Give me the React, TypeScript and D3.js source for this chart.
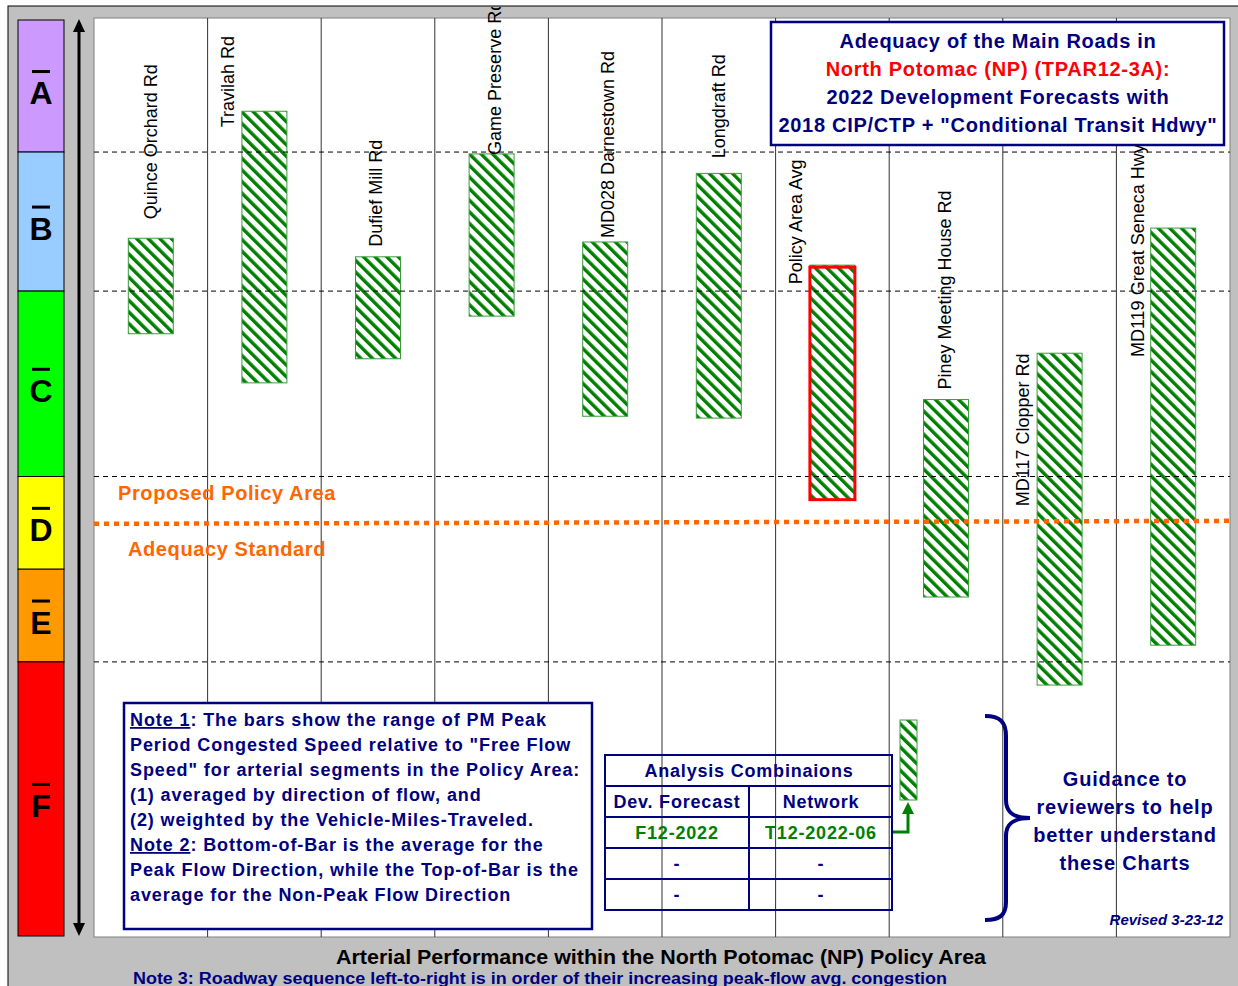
import React from "react";
import * as d3 from "d3";

// ---------- DATA ----------
const categories = [
  "Quince Orchard Rd",
  "Travilah Rd",
  "Dufief Mill Rd",
  "Game Preserve Rd",
  "MD028 Darnestown Rd",
  "Longdraft Rd",
  "Policy Area Avg",
  "Piney Meeting House Rd",
  "MD117 Clopper Rd",
  "MD119 Great Seneca Hwy",
];
// Top-of-bar: non-peak flow direction (% of free-flow speed)
const nonPeakValues = [75.7, 89.4, 73.7, 84.8, 75.3, 82.7, 72.8, 58.3, 63.3, 76.8];
// Bottom-of-bar: peak flow direction (% of free-flow speed)
const peakValues = [65.4, 60.1, 62.7, 67.3, 56.5, 56.3, 47.5, 37.0, 27.5, 31.8];
const highlightCategory = "Policy Area Avg";

const losLetters = ["A", "B", "C", "D", "E", "F"];
const losUpper = [100, 85, 70, 50, 40, 30];
const losLower = [85, 70, 50, 40, 30, 0];
const losColors = ["#cc99ff", "#99ccff", "#00ff00", "#ffff00", "#ff9900", "#ff0000"];
const dashedThresholds = [85, 70, 50, 30];
const adequacyStandard = 45;

const titleLines = [
  { text: "Adequacy of the Main Roads in", color: "#000080" },
  { text: "North Potomac (NP) (TPAR12-3A):", color: "#ff0000" },
  { text: "2022 Development Forecasts with", color: "#000080" },
  { text: "2018 CIP/CTP + \"Conditional Transit Hdwy\"", color: "#000080" },
];
const noteLines = [
  ["Note 1", ": The bars show the range of PM Peak"],
  ["", "Period Congested Speed relative to \"Free Flow"],
  ["", "Speed\" for arterial segments in the Policy Area:"],
  ["", "(1) averaged by direction of flow, and"],
  ["", "(2) weighted by the Vehicle-Miles-Traveled."],
  ["Note 2", ": Bottom-of-Bar is the average for the"],
  ["", "Peak Flow Direction, while the Top-of-Bar is the"],
  ["", "average for the Non-Peak Flow Direction"],
];
const tableHeader = "Analysis Combinaions";
const tableColumns = ["Dev. Forecast", "Network"];
const tableRows = [
  ["F12-2022", "T12-2022-06"],
  ["-", "-"],
  ["-", "-"],
];
const guidanceLines = ["Guidance to", "reviewers to help", "better understand", "these Charts"];

// ---------- LAYOUT (label placement tweaks) ----------
const labelDx = [0, -37, -2, 3, 2, 0, -37, -1, -37, -36];
const labelDy = [-19, 16, -10, 1, -4, -15, 19, -10, 153, 129];

const FONT = "'Liberation Sans', Arial, sans-serif";
const NAVY = "#000080";
const GREEN = "#008000";
const ORANGE = "#ff6600";

export default function App() {
  const W = 1238;
  const H = 986;
  const plot = { x0: 94, x1: 1230, y0: 18, y1: 937 };

  const x = d3
    .scaleBand<string>()
    .domain(categories)
    .range([plot.x0, plot.x1])
    .paddingInner(0.604)
    .paddingOuter(0.302);
  const xCat = d3.scaleBand<string>().domain(categories).range([plot.x0, plot.x1]);
  const y = d3.scaleLinear().domain([0, 100]).range([940, 13]);

  const bandTop = (v: number) => Math.max(20, y(v));
  const bandBot = (v: number) => Math.min(936, y(v));

  return (
    <svg
      width={W}
      height={H}
      style={{ position: "absolute", left: 0, top: 0, fontFamily: FONT }}
    >
      <defs>
        <pattern
          id="hatch"
          patternUnits="userSpaceOnUse"
          width={8.2}
          height={10}
          patternTransform="rotate(-45)"
        >
          <rect width={8.2} height={10} fill="#ffffff" />
          <rect x={0} width={3.4} height={10} fill={GREEN} />
        </pattern>
        <clipPath id="chartClip">
          <rect x={8} y={7} width={W} height={H} />
        </clipPath>
      </defs>

      <rect x={0} y={0} width={W} height={H} fill="#ffffff" />
      <rect x={8} y={6} width={W} height={H} fill="#c0c0c0" stroke="#000" strokeWidth={1} />

      {/* LOS letter band */}
      {losLetters.map((l, i) => {
        const t = bandTop(losUpper[i]);
        const b = bandBot(losLower[i]);
        const cy = (t + b) / 2;
        return (
          <g key={l}>
            <rect x={18} y={t} width={46} height={b - t} fill={losColors[i]} stroke="#000" strokeWidth={1} />
            <text x={41} y={cy + 18} textAnchor="middle" fontSize={32} fontWeight="bold" fill="#000">
              {l}
            </text>
            <rect x={32} y={cy - 16} width={18} height={3} fill="#000" />
          </g>
        );
      })}

      {/* double arrow */}
      <line x1={79} y1={30} x2={79} y2={925} stroke="#000" strokeWidth={3} />
      <path d="M73,32 L79,19 L85,32 Z" fill="#000" />
      <path d="M73,923 L79,936 L85,923 Z" fill="#000" />

      {/* plot area */}
      <rect x={plot.x0} y={plot.y0} width={plot.x1 - plot.x0} height={plot.y1 - plot.y0} fill="#ffffff" stroke="#808080" strokeWidth={1} />

      {/* vertical separators */}
      {categories.slice(1).map((c) => (
        <line key={c} x1={xCat(c)!} x2={xCat(c)!} y1={plot.y0} y2={plot.y1} stroke="#333" strokeWidth={1} />
      ))}

      {/* bars */}
      {categories.map((c, i) => {
        const bx = x(c)!;
        const bw = x.bandwidth();
        const yt = y(nonPeakValues[i]);
        const yb = y(peakValues[i]);
        return (
          <rect key={c} x={bx} y={yt} width={bw} height={yb - yt} fill="url(#hatch)" stroke="#3c9c3c" strokeWidth={1} />
        );
      })}

      {/* dashed LOS thresholds */}
      {dashedThresholds.map((v) => (
        <line key={v} x1={plot.x0} x2={plot.x1} y1={y(v)} y2={y(v)} stroke="#000" strokeWidth={1} strokeDasharray="5,4" />
      ))}

      {/* highlight box */}
      {categories.map((c, i) =>
        c === highlightCategory ? (
          <rect
            key={c}
            x={x(c)!}
            y={y(nonPeakValues[i]) + 2}
            width={x.bandwidth()}
            height={y(peakValues[i]) - y(nonPeakValues[i]) - 2}
            fill="none"
            stroke="#ff0000"
            strokeWidth={3}
          />
        ) : null
      )}

      {/* adequacy standard */}
      <line x1={plot.x0} x2={plot.x1} y1={y(adequacyStandard) + 1} y2={y(adequacyStandard) - 2} stroke={ORANGE} strokeWidth={4.5} strokeDasharray="5,5" />
      <text x={118} y={500} fontSize={20} fontWeight="bold" fill={ORANGE} style={{ letterSpacing: "0.6px" }}>
        Proposed Policy Area
      </text>
      <text x={128} y={556} fontSize={20} fontWeight="bold" fill={ORANGE} style={{ letterSpacing: "0.6px" }}>
        Adequacy Standard
      </text>

      {/* category labels */}
      <g clipPath="url(#chartClip)">
        {categories.map((c, i) => {
          const cx = x(c)! + x.bandwidth() / 2 + labelDx[i];
          const ly = y(nonPeakValues[i]) + labelDy[i];
          return (
            <text
              key={c}
              transform={`translate(${cx},${ly}) rotate(-90)`}
              dy="0.35em"
              fontSize={18}
              fill="#000"
            >
              {c}
            </text>
          );
        })}
      </g>

      {/* title box */}
      <rect x={771} y={22} width={453} height={123} fill="#ffffff" stroke={NAVY} strokeWidth={2.5} />
      {titleLines.map((l, i) => (
        <text key={i} x={998} y={48 + i * 28} textAnchor="middle" fontSize={20} fontWeight="bold" fill={l.color} style={{ letterSpacing: "0.7px" }}>
          {l.text}
        </text>
      ))}

      {/* notes box */}
      <rect x={124} y={703} width={468} height={226} fill="#ffffff" stroke={NAVY} strokeWidth={2.5} />
      {noteLines.map((l, i) => (
        <text key={i} x={130} y={726 + i * 25} fontSize={18} fontWeight="bold" fill={NAVY} style={{ letterSpacing: "0.9px" }}>
          {l[0] && <tspan textDecoration="underline">{l[0]}</tspan>}
          {l[1]}
        </text>
      ))}

      {/* table */}
      <g>
        <rect x={605} y={755} width={287} height={155} fill="none" stroke={NAVY} strokeWidth={2} />
        {[786, 817, 848, 879].map((ry) => (
          <line key={ry} x1={605} x2={892} y1={ry} y2={ry} stroke={NAVY} strokeWidth={2} />
        ))}
        <line x1={749} x2={749} y1={786} y2={910} stroke={NAVY} strokeWidth={2} />
        <text x={749} y={777} textAnchor="middle" fontSize={18} fontWeight="bold" fill={NAVY} style={{ letterSpacing: "0.8px" }}>
          {tableHeader}
        </text>
        {tableColumns.map((t, j) => (
          <text key={t} x={j === 0 ? 677 : 821} y={808} textAnchor="middle" fontSize={18} fontWeight="bold" fill={NAVY} style={{ letterSpacing: "0.8px" }}>
            {t}
          </text>
        ))}
        {tableRows.map((r, i) =>
          r.map((t, j) => (
            <text
              key={`${i}-${j}`}
              x={j === 0 ? 677 : 821}
              y={839 + i * 31}
              textAnchor="middle"
              fontSize={18}
              fontWeight="bold"
              fill={i === 0 ? GREEN : NAVY}
              style={{ letterSpacing: "0.8px" }}
            >
              {t}
            </text>
          ))
        )}
      </g>

      {/* legend mini bar + green connector */}
      <rect x={900} y={720} width={17} height={80} fill="url(#hatch)" stroke="#3c9c3c" strokeWidth={1} />
      <path d="M893,832 L908,832 L908,812" fill="none" stroke={GREEN} strokeWidth={3} />
      <path d="M902,814 L908,802 L914,814 Z" fill={GREEN} />

      {/* brace */}
      <path
        d="M985,716 C1000,716 1006,722 1006,736 L1006,800 C1006,812 1013,818 1030,818 C1013,818 1006,824 1006,836 L1006,902 C1006,915 1000,920 985,920"
        fill="none"
        stroke={NAVY}
        strokeWidth={4}
      />
      {guidanceLines.map((t, i) => (
        <text key={t} x={1125} y={786 + i * 28} textAnchor="middle" fontSize={20} fontWeight="bold" fill={NAVY} style={{ letterSpacing: "0.8px" }}>
          {t}
        </text>
      ))}
      <text x={1223} y={925} textAnchor="end" fontSize={15} fontWeight="bold" fontStyle="italic" fill={NAVY}>
        Revised 3-23-12
      </text>

      {/* bottom captions */}
      <text x={661} y={964} textAnchor="middle" fontSize={20} fontWeight="bold" fill="#000" textLength={650} lengthAdjust="spacingAndGlyphs">
        Arterial Performance within the North Potomac (NP) Policy Area
      </text>
      <text x={133} y={984} fontSize={16} fontWeight="bold" fill={NAVY} textLength={814} lengthAdjust="spacingAndGlyphs">
        Note 3: Roadway sequence left-to-right is in order of their increasing peak-flow avg. congestion
      </text>
    </svg>
  );
}
